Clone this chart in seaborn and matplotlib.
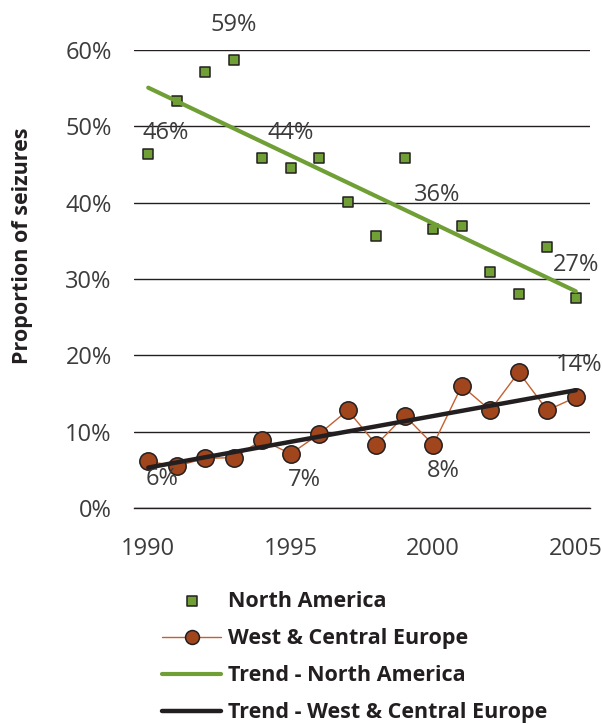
import seaborn as sns
import matplotlib.pyplot as plt
import matplotlib.ticker as mticker
import numpy as np
import pandas as pd

years = list(range(1990, 2006))
north_america = [0.464, 0.533, 0.571, 0.587, 0.459, 0.446, 0.459, 0.401,
                 0.356, 0.459, 0.366, 0.370, 0.309, 0.280, 0.342, 0.275]
west_central_europe = [0.061, 0.055, 0.065, 0.066, 0.089, 0.071, 0.097, 0.128,
                       0.083, 0.121, 0.083, 0.160, 0.128, 0.178, 0.128, 0.145]

# data labels: (year, text, x offset px, y offset px)
na_labels = [(1990, "46%", 17, 21), (1993, "59%", 0, 35), (1995, "44%", 0, 35),
             (2000, "36%", 4, 34), (2005, "27%", 0, 33)]
eu_labels = [(1990, "6%", 14, -18), (1995, "7%", 14, -26), (2000, "8%", 10, -26),
             (2005, "14%", 3, 32)]

df = pd.DataFrame({"year": years, "na": north_america, "eu": west_central_europe})

sns.set_style("white")
plt.rcParams["font.family"] = ["Open Sans", "DejaVu Sans"]

green = "#6f9f35"
brown = "#a1451d"
dark = "#231f20"
text_grey = "#3c3c3c"

fig = plt.figure(figsize=(6.02, 7.24), dpi=100)
ax = fig.add_axes([134 / 602, 216 / 724, 456 / 602, 458 / 724])

sns.scatterplot(data=df, x="year", y="na", marker="s", s=60, color=green,
                edgecolor=dark, linewidth=1.1, label="North America", ax=ax, zorder=3)
sns.lineplot(data=df, x="year", y="eu", color="#c4602f", linewidth=1,
             marker="o", markersize=12.5, markerfacecolor=brown,
             markeredgecolor=dark, markeredgewidth=1.1,
             label="West & Central Europe", ax=ax, zorder=3)
sns.regplot(data=df, x="year", y="na", scatter=False, ci=None, ax=ax,
            label="Trend - North America",
            line_kws={"color": green, "linewidth": 3, "zorder": 4})
sns.regplot(data=df, x="year", y="eu", scatter=False, ci=None, ax=ax,
            label="Trend - West & Central Europe",
            line_kws={"color": dark, "linewidth": 3.2, "zorder": 4})

for yr, txt, dx, dy in na_labels:
    ax.annotate(txt, (yr, north_america[years.index(yr)]), xytext=(dx, dy),
                textcoords="offset pixels", ha="center", va="center",
                fontsize=17, color=text_grey, annotation_clip=False)
for yr, txt, dx, dy in eu_labels:
    ax.annotate(txt, (yr, west_central_europe[years.index(yr)]), xytext=(dx, dy),
                textcoords="offset pixels", ha="center", va="center",
                fontsize=17, color=text_grey, annotation_clip=False)

ax.set_xlim(1989.5, 2005.5)
ax.set_ylim(0, 0.6)
ax.yaxis.set_major_locator(mticker.MultipleLocator(0.1))
ax.yaxis.set_major_formatter(mticker.PercentFormatter(1.0, decimals=0))
ax.set_xticks([1990, 1995, 2000, 2005])
ax.set_xticks(np.arange(1989.5, 2006, 1), minor=True)
ax.tick_params(axis="x", which="major", length=0, pad=21, labelsize=17, labelcolor=text_grey)
ax.tick_params(axis="x", which="minor", length=5, width=1, color=dark, direction="out")
ax.tick_params(axis="y", length=0, pad=16, labelsize=17, labelcolor=text_grey)
ax.grid(axis="y", color=dark, linewidth=1)
ax.set_axisbelow(True)
for side in ["left", "right", "top"]:
    ax.spines[side].set_visible(False)
ax.spines["bottom"].set_color(dark)
ax.spines["bottom"].set_linewidth(1)

ax.set_xlabel("")
ax.set_ylabel("Proportion of seizures", fontsize=15.5, fontweight="bold", color=dark)
ax.yaxis.set_label_coords(-0.222, 0.572)

handles, labels = ax.get_legend_handles_labels()
ax.get_legend().remove()
leg = fig.legend(handles, labels, loc="upper left", bbox_to_anchor=(162 / 602, 1 - 591 / 724),
                 frameon=False, prop={"weight": "bold", "size": 15.5},
                 handlelength=2.75, handletextpad=0.3, labelspacing=0.75,
                 borderpad=0, borderaxespad=0, labelcolor=dark)
leg.legend_handles[1].set_markersize(10)

fig.savefig("out.png", dpi=100)
